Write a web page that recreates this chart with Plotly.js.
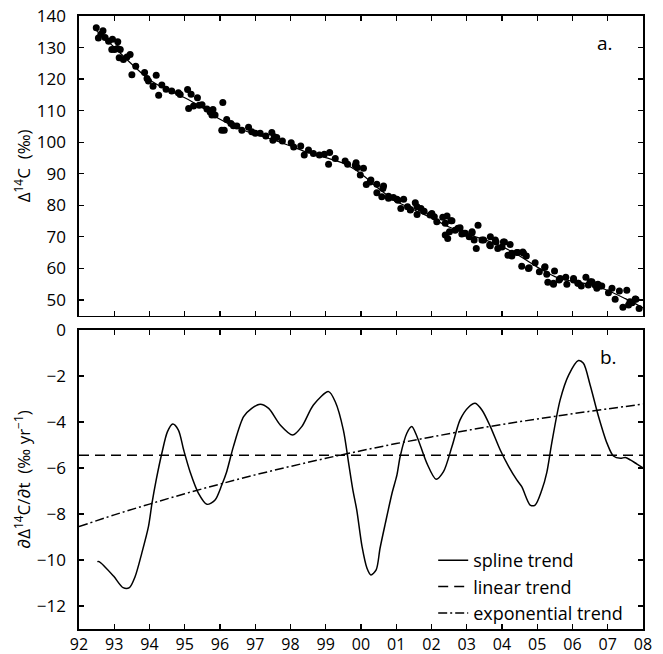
<!DOCTYPE html>
<html>
<head>
<meta charset="utf-8">
<script src="https://cdn.plot.ly/plotly-3.0.1.min.js"></script>
<style>html,body{margin:0;padding:0;background:#fff;}#chart{width:663px;height:654px;}</style>
</head>
<body>
<div id="chart"></div>
<script>
// Observed Delta14C (permil) vs year (92 = 1992)
const obsYear = [92.49,92.55,92.62,92.68,92.74,92.84,92.93,92.95,93.01,93.09,93.10,93.14,93.17,93.26,93.36,93.45,93.50,93.61,93.86,93.93,93.97,94.10,94.19,94.26,94.35,94.47,94.63,94.82,94.87,95.08,95.11,95.18,95.25,95.36,95.41,95.49,95.63,95.72,95.77,95.80,95.86,96.05,96.08,96.12,96.19,96.31,96.38,96.48,96.62,96.81,96.90,97.00,97.14,97.30,97.47,97.50,97.54,97.61,97.77,98.02,98.09,98.29,98.39,98.51,98.65,98.82,98.96,99.08,99.11,99.27,99.55,99.62,99.84,99.86,99.90,99.98,100.07,100.15,100.26,100.28,100.45,100.45,100.59,100.62,100.64,100.78,100.78,100.92,101.02,101.05,101.13,101.21,101.32,101.40,101.40,101.54,101.59,101.59,101.70,101.79,101.96,102.01,102.08,102.15,102.32,102.39,102.39,102.44,102.46,102.51,102.55,102.58,102.67,102.75,102.81,102.86,102.91,102.96,103.07,103.15,103.15,103.21,103.27,103.32,103.43,103.48,103.65,103.67,103.67,103.81,103.83,103.88,104.00,104.04,104.07,104.17,104.23,104.28,104.28,104.42,104.45,104.56,104.59,104.61,104.69,104.75,104.77,104.94,105.06,105.21,105.22,105.27,105.30,105.46,105.46,105.49,105.62,105.65,105.81,105.84,106.03,106.03,106.15,106.17,106.25,106.38,106.45,106.50,106.55,106.64,106.69,106.72,106.78,106.83,107.02,107.12,107.21,107.33,107.43,107.54,107.59,107.63,107.69,107.78,107.80,107.89];
const obsD14C = [136.3,133.0,134.2,135.3,133.2,132.0,129.4,132.6,129.4,129.7,131.8,126.8,129.4,126.2,127.0,127.8,121.4,124.1,122.1,120.2,119.4,117.7,121.2,114.9,118.1,116.8,116.2,115.7,115.1,116.7,110.7,115.2,111.5,114.1,111.7,111.9,110.5,109.6,108.6,110.4,108.6,103.8,112.6,103.8,107.2,105.9,105.2,105.1,103.8,104.7,103.3,102.8,102.8,102.0,103.1,100.6,101.7,101.5,100.4,99.8,98.5,98.8,95.9,97.5,96.4,95.9,96.2,93.0,96.7,94.8,94.0,93.0,92.7,93.5,92.0,89.6,91.7,86.6,87.4,88.0,84.0,86.7,82.7,85.3,86.1,82.2,82.9,82.5,81.9,81.6,79.0,81.9,79.5,78.5,78.7,80.8,77.1,79.5,79.0,78.1,76.9,77.4,76.4,74.8,76.2,74.3,70.6,76.6,69.5,71.6,75.1,75.1,72.1,72.7,72.9,70.9,71.1,71.1,70.0,71.3,71.6,69.0,66.3,73.7,69.0,69.0,67.4,70.0,67.2,69.0,68.4,66.3,66.8,68.4,68.4,64.2,67.6,63.9,64.8,65.0,65.0,60.7,65.2,64.8,63.9,60.0,60.2,61.8,58.9,60.3,60.5,58.1,55.6,55.0,55.3,59.2,56.3,56.8,57.2,55.0,56.3,56.8,55.3,55.3,54.4,57.2,54.7,55.8,55.8,54.7,53.7,55.0,54.4,54.4,52.3,53.7,50.2,52.8,47.7,53.1,48.4,49.4,49.1,50.3,50.2,47.3];

// Smooth fit through the observations (panel a)
const fitYear = [92.5,93,93.5,94,94.5,95,95.5,96,96.5,97,97.5,98,98.5,99,99.5,100,100.5,101,101.5,102,102.5,103,103.5,104,104.5,105,105.5,106,106.5,107,107.5,108];
const fitD14C = [135.3,130.1,124.7,119.8,116.6,114.1,110.9,107.3,104.5,102.5,100.8,98.8,96.7,95.1,93.3,90.0,85.3,81.3,78.6,76.0,73.1,70.9,69.1,66.9,63.9,60.4,57.4,55.9,54.9,53.0,50.4,47.5];

// Panel b: rate of change (permil / yr)
const splineYear = [92.52,92.57,92.98,93.25,93.43,93.59,93.78,93.97,94.07,94.19,94.35,94.51,94.66,94.82,94.97,95.15,95.39,95.63,95.86,96.05,96.19,96.38,96.67,96.90,97.14,97.38,97.71,98.06,98.32,98.65,99.08,99.27,99.50,99.65,99.77,99.88,100.03,100.17,100.28,100.43,100.54,100.69,100.88,101.02,101.11,101.30,101.44,101.59,101.87,102.13,102.34,102.58,102.81,103.05,103.24,103.43,103.67,103.95,104.19,104.42,104.56,104.80,104.94,105.13,105.27,105.41,105.65,105.89,106.17,106.31,106.50,106.74,106.98,107.16,107.36,107.50,107.64,107.83,108.0];
const splineRate = [-10.07,-10.07,-10.7,-11.2,-11.2,-10.73,-9.71,-8.55,-7.54,-6.52,-5.36,-4.42,-4.09,-4.35,-5.22,-6.16,-7.1,-7.58,-7.39,-6.74,-6.16,-5.07,-3.77,-3.41,-3.23,-3.41,-4.13,-4.57,-4.2,-3.26,-2.68,-3.12,-4.35,-5.8,-6.96,-7.83,-9.42,-10.36,-10.65,-10.43,-9.49,-8.41,-7.1,-6.3,-5.51,-4.49,-4.2,-4.64,-5.8,-6.49,-6.16,-5.07,-3.91,-3.36,-3.19,-3.48,-4.2,-5.22,-5.94,-6.52,-6.81,-7.61,-7.61,-6.96,-6.2,-4.93,-3.04,-1.96,-1.33,-1.45,-2.39,-3.77,-4.93,-5.48,-5.58,-5.54,-5.65,-5.83,-5.99];
const linearYear = [92, 108];
const linearRate = [-5.45, -5.45];
const expYear = [92,93,94,95,96,97,98,99,100,101,102,103,104,105,106,107,108];
const expRate = [-8.55,-8.04,-7.57,-7.12,-6.70,-6.30,-5.93,-5.58,-5.25,-4.94,-4.65,-4.37,-4.11,-3.87,-3.64,-3.43,-3.22];

const yearTicks = [92,93,94,95,96,97,98,99,100,101,102,103,104,105,106,107,108];
const yearTickText = ['92','93','94','95','96','97','98','99','00','01','02','03','04','05','06','07','08'];
const d14cTicks = [50,60,70,80,90,100,110,120,130,140];
const rateTicks = [0,-2,-4,-6,-8,-10,-12];

const FONT = 'Open Sans, DejaVu Sans, sans-serif';

const traces = [
  {x: obsYear, y: obsD14C, xaxis: 'x', yaxis: 'y', type: 'scatter', mode: 'markers',
   marker: {color: '#000', size: 7}, showlegend: false, hoverinfo: 'skip'},
  {x: fitYear, y: fitD14C, xaxis: 'x', yaxis: 'y', type: 'scatter', mode: 'lines',
   line: {color: '#000', width: 1.2, shape: 'spline'}, showlegend: false},
  {x: splineYear, y: splineRate, xaxis: 'x2', yaxis: 'y2', type: 'scatter', mode: 'lines',
   name: 'spline trend', line: {color: '#000', width: 1.5, shape: 'spline', smoothing: 0.8}},
  {x: linearYear, y: linearRate, xaxis: 'x2', yaxis: 'y2', type: 'scatter', mode: 'lines',
   name: 'linear trend', line: {color: '#000', width: 1.5, dash: '10px,6px'}},
  {x: expYear, y: expRate, xaxis: 'x2', yaxis: 'y2', type: 'scatter', mode: 'lines',
   name: 'exponential trend', line: {color: '#000', width: 1.5, dash: '9px,3px,2px,3px', shape: 'spline'}}
];

const axisCommon = {
  showgrid: false, zeroline: false, showline: true, linecolor: '#000', linewidth: 1.6,
  mirror: 'ticks', ticks: 'inside', ticklen: 5, tickwidth: 1.2, tickcolor: '#000',
  tickfont: {family: FONT, size: 17, color: '#000'}
};

const layout = {
  width: 663, height: 654,
  margin: {l: 79, r: 20, t: 16, b: 25},
  paper_bgcolor: '#fff', plot_bgcolor: '#fff',
  font: {family: FONT, color: '#000', size: 17},
  xaxis: Object.assign({}, axisCommon, {domain: [0, 1], anchor: 'y', range: [92, 108],
    tickvals: yearTicks, showticklabels: false}),
  yaxis: Object.assign({}, axisCommon, {domain: [0.5111, 1], anchor: 'x', range: [45, 140],
    tickvals: d14cTicks, ticklabelstandoff: 8,
    title: {text: 'Δ<sup>14</sup>C  (‰)', font: {family: FONT, size: 17}, standoff: 2}}),
  xaxis2: Object.assign({}, axisCommon, {domain: [0, 1], anchor: 'y2', range: [92, 108],
    tickvals: yearTicks, ticktext: yearTickText, ticklabelstandoff: 0,
    tickfont: {family: FONT, size: 16, color: '#000'}}),
  yaxis2: Object.assign({}, axisCommon, {domain: [0, 0.4878], anchor: 'x2', range: [-13, 0],
    tickvals: rateTicks, ticklabelstandoff: 8,
    title: {text: '∂Δ<sup>14</sup>C/∂t  (‰ yr<sup>−1</sup>)', font: {family: FONT, size: 17}, standoff: 2}}),
  showlegend: true,
  legend: {x: 0.628, y: 0.142, xanchor: 'left', yanchor: 'top', bgcolor: 'rgba(0,0,0,0)',
    font: {family: FONT, size: 18, color: '#000'}, tracegroupgap: 0},
  annotations: [
    {text: 'a.', xref: 'x domain', yref: 'y domain', x: 0.933, y: 0.909, xanchor: 'center', yanchor: 'middle',
     showarrow: false, font: {family: FONT, size: 19, color: '#000'}},
    {text: 'b.', xref: 'x2 domain', yref: 'y2 domain', x: 0.938, y: 0.91, xanchor: 'center', yanchor: 'middle',
     showarrow: false, font: {family: FONT, size: 19, color: '#000'}}
  ]
};

Plotly.newPlot('chart', traces, layout, {displayModeBar: false, staticPlot: true});
</script>
</body>
</html>
